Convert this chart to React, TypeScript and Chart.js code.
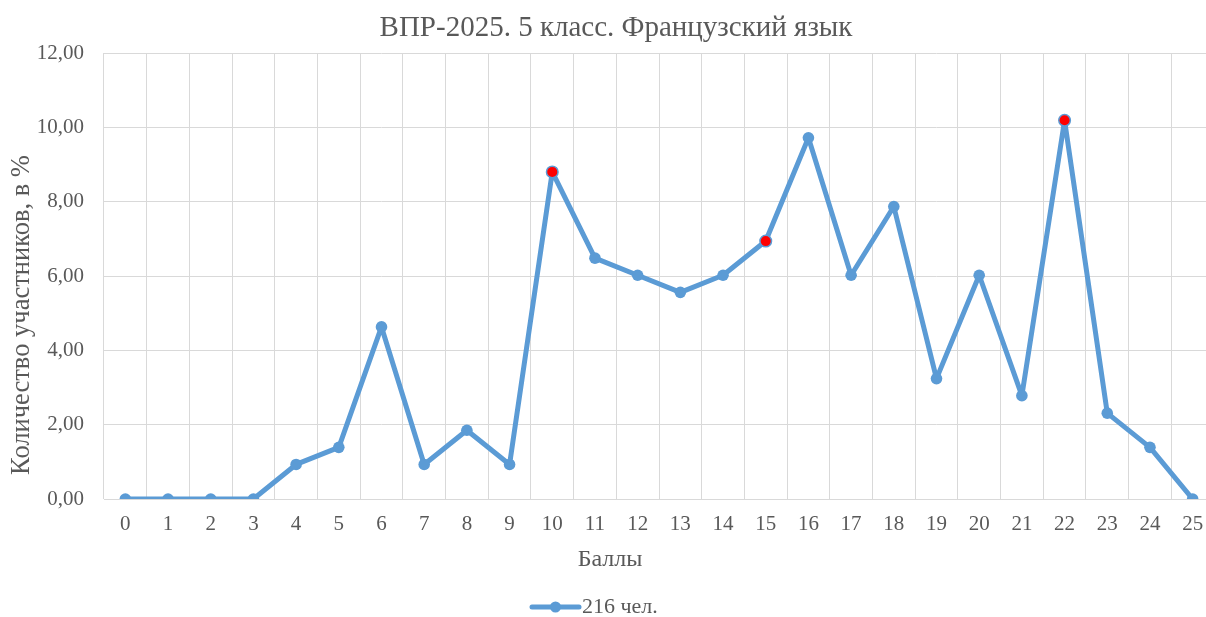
import React, { useEffect, useRef } from "react";
import { Chart, registerables } from "chart.js";

Chart.register(...registerables);

const chartTitle = "ВПР-2025. 5 класс. Французский язык";
const xAxisTitle = "Баллы";
const yAxisTitle = "Количество участников, в %";
const seriesLabel = "216 чел.";
const categories = [
  "0", "1", "2", "3", "4", "5", "6", "7", "8", "9", "10", "11", "12",
  "13", "14", "15", "16", "17", "18", "19", "20", "21", "22", "23", "24", "25",
];
const values = [
  0, 0, 0, 0, 0.93, 1.39, 4.63, 0.93, 1.85, 0.93, 8.8, 6.48, 6.02, 5.56, 6.02,
  6.94, 9.72, 6.02, 7.87, 3.24, 6.02, 2.78, 10.19, 2.31, 1.39, 0,
];
const highlighted = ["10", "15", "22"];
const yMin = 0;
const yMax = 12;
const yStep = 2;

const BLUE = "#5B9BD5";
const RED = "#FF0000";
const TEXT = "#595959";
const GRID = "#D9D9D9";
const FONT = '"Liberation Serif", "Times New Roman", serif';

const W = 1232;
const H = 617;

const overlayPlugin = {
  id: "overlayTexts",
  afterDraw(chart: any) {
    const ctx = chart.ctx;
    ctx.save();
    ctx.fillStyle = TEXT;
    ctx.textAlign = "center";
    ctx.textBaseline = "middle";
    // x axis title
    ctx.font = `24px ${FONT}`;
    ctx.fillText(xAxisTitle, 610, 560);
    // y axis title
    ctx.save();
    ctx.font = `26.5px ${FONT}`;
    ctx.translate(22, 315);
    ctx.rotate(-Math.PI / 2);
    ctx.fillText(yAxisTitle, 0, 0);
    ctx.restore();
    // legend
    const ds = chart.data.datasets[0];
    const ly = 607;
    const lx0 = 532;
    const lx1 = 579;
    ctx.strokeStyle = ds.borderColor;
    ctx.lineWidth = 5;
    ctx.lineCap = "round";
    ctx.beginPath();
    ctx.moveTo(lx0, ly);
    ctx.lineTo(lx1, ly);
    ctx.stroke();
    ctx.fillStyle = ds.borderColor;
    ctx.beginPath();
    ctx.arc((lx0 + lx1) / 2, ly, 5.5, 0, Math.PI * 2);
    ctx.fill();
    ctx.fillStyle = TEXT;
    ctx.textAlign = "left";
    ctx.font = `22px ${FONT}`;
    ctx.fillText(ds.label, lx1 + 3, ly);
    ctx.restore();
  },
};

export default function App() {
  const ref = useRef<HTMLCanvasElement | null>(null);
  useEffect(() => {
    if (!ref.current) return;
    const isHi = categories.map((c) => highlighted.includes(c));
    const chart = new Chart(ref.current, {
      type: "line",
      data: {
        labels: categories,
        datasets: [
          {
            label: seriesLabel,
            data: values,
            borderColor: BLUE,
            backgroundColor: BLUE,
            borderWidth: 5,
            borderJoinStyle: "round",
            borderCapStyle: "round",
            pointRadius: 5.8,
            pointHoverRadius: 5.8,
            pointBackgroundColor: isHi.map((h) => (h ? RED : BLUE)),
            pointBorderColor: BLUE,
            pointBorderWidth: isHi.map((h) => (h ? 1.5 : 0)),
            tension: 0,
          },
        ],
      },
      options: {
        responsive: false,
        animation: false,
        devicePixelRatio: 1,
        layout: { padding: { left: 18, right: 18, top: 0, bottom: 0 } },
        plugins: {
          legend: { display: false },
          tooltip: { enabled: false },
          title: {
            display: true,
            text: chartTitle,
            color: TEXT,
            font: { family: FONT, size: 29, weight: "normal", lineHeight: 1.2 },
            padding: { top: 11, bottom: 7.2 },
          },
        },
        scales: {
          x: {
            type: "category",
            offset: true,
            grid: { offset: true, color: GRID, lineWidth: 1, drawTicks: false },
            border: { color: GRID, width: 1 },
            ticks: {
              color: TEXT,
              font: { family: FONT, size: 21 },
              padding: 13,
              autoSkip: false,
              maxRotation: 0,
            },
            afterFit(scale: any) {
              scale.height = 118;
            },
          },
          y: {
            min: yMin,
            max: yMax,
            grid: { color: GRID, lineWidth: 1, drawTicks: false },
            border: { display: false },
            ticks: {
              stepSize: yStep,
              color: TEXT,
              font: { family: FONT, size: 21 },
              padding: 20,
              callback: (v: any) => Number(v).toFixed(2).replace(".", ","),
            },
            afterFit(scale: any) {
              scale.width = 86;
            },
          },
        },
      },
      plugins: [overlayPlugin],
    });
    return () => chart.destroy();
  }, []);
  return (
    <div
      style={{
        position: "fixed",
        left: 0,
        top: 0,
        width: 1206,
        height: 617,
        overflow: "hidden",
        background: "#fff",
      }}
    >
      <canvas ref={ref} width={W} height={H} style={{ display: "block" }} />
    </div>
  );
}
